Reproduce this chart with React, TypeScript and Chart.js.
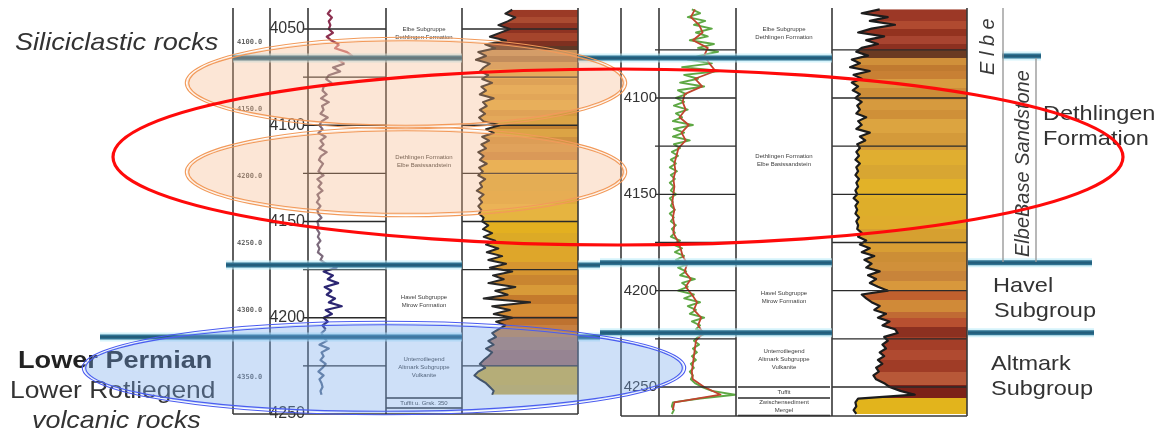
import React, { useEffect, useRef } from "react";
import { Chart, registerables } from "chart.js";

Chart.register(...registerables);

const W = 1154;
const H = 434;
const FONT = '"Liberation Sans", Arial, sans-serif';

// ---------------- data ----------------
const sampleStep = 2;
const wellLStart = 4040; // left well, first sample depth (m)
const wellRStart = 4054; // right well, first sample depth (m)
const redStep = 4;

// Left well: gamma-ray (API)
const grL = [
  44, 38, 46, 40, 43, 40, 48, 36, 45, 60, 52, 75, 85, 58, 70, 48, 62, 40, 35, 45, 30,
  28, 36, 25, 40, 27, 30, 24, 38, 26, 22, 28, 20, 34, 24, 30, 22, 36, 25, 21, 29,
  24, 20, 30, 18, 26, 20, 28, 18, 22, 17, 24, 18, 20, 26, 18, 20, 17, 22, 19, 24,
  18, 22, 19, 28, 24, 35, 55, 30, 48, 38, 58, 32, 45, 36, 52, 40, 65, 34, 46, 30,
  38, 28, 34, 26, 30, 36, 22, 40, 26, 30, 24, 34, 28, 20, 30, 22, 26, 28, 24, 26,
];
// Left well: filled log (value scale 0-150)
const fillL = [
  65, 56, 69, 59, 47, 62, 49, 36, 57, 30, 43, 21, 31, 18, 36, 28, 23, 34, 26, 39, 25,
  31, 23, 41, 27, 32, 23, 30, 22, 28, 49, 31, 41, 26, 35, 25, 31, 21, 28, 23, 32,
  22, 27, 21, 30, 23, 26, 19, 28, 22, 26, 21, 25, 22, 28, 26, 34, 27, 39, 28, 43,
  31, 47, 32, 52, 34, 57, 36, 65, 40, 54, 34, 69, 43, 59, 28, 88, 39, 62, 41, 65,
  44, 56, 47, 39, 44, 34, 41, 31, 39, 34, 28, 23, 30, 21, 16, 23, 31, 36, 41, 39,
];
// Right well: gamma-ray, green curve
const grR = [
  64, 80, 56, 90, 68, 103, 72, 95, 60, 107, 76, 115, 80, 56, 103, 45, 119, 49, 76, 41, 88, 37, 53, 33,
  49, 29, 56, 33, 45, 27, 66, 29, 49, 27, 60, 29, 41, 25, 37, 23, 33, 21, 35, 23, 31, 21, 29, 23, 33,
  21, 27, 23, 31, 21, 29, 23, 33, 25, 31, 23, 41, 27, 45, 31, 49, 33, 60, 37, 53, 41, 70, 45, 56, 37,
  68, 49, 80, 56, 72, 60, 88, 64, 80, 72, 92, 76, 68, 78, 66, 74, 64, 72, 62, 68, 60, 66, 62, 70, 84,
  103, 148, 80, 27, 25, 29, 25,
];
// Right well: second (red) curve
const grRedR = [
  70, 62, 78, 85, 66, 95, 88, 98, 110, 70, 84, 50, 46, 52, 40, 58, 44, 52, 38, 34,
  30, 32, 28, 30, 28, 26, 30, 27, 30, 28, 36, 42, 46, 55, 50, 62, 52, 64, 74, 68,
  82, 76, 86, 72, 70, 68, 66, 64, 66, 88, 120, 30, 27,
];
// Right well: filled log
const fillR = [
  53, 33, 62, 42, 70, 44, 29, 58, 38, 51, 33, 27, 40, 22, 31, 20, 42, 24, 33, 22, 29, 23, 31, 26,
  33, 28, 31, 27, 38, 29, 33, 27, 42, 31, 37, 28, 31, 27, 30, 26, 31, 27, 29, 26, 30, 27, 29, 26, 28,
  24, 29, 26, 28, 26, 30, 27, 29, 28, 33, 29, 38, 31, 42, 33, 47, 36, 44, 38, 53, 40, 49, 42, 51, 62,
  33, 38, 44, 53, 47, 60, 51, 64, 56, 70, 73, 58, 62, 56, 60, 53, 58, 51, 56, 49, 52, 46, 49, 58, 64,
  76, 92, 29, 26, 27, 24, 27,
];

// Curve colour by depth (left GR)
const grColorDepthL = [4000, 4057, 4068, 4171, 4206];
const grColorL = ["#8c3050", "#c87078", "#7c6a7c", "#2c2672", "#5c6f8c"];

// Fill colour bands (top depth of each band)
const fillBandDepthL = [
  4039, 4044, 4047, 4052, 4056, 4059, 4061, 4064, 4067, 4071, 4076, 4079, 4084, 4087, 4092,
  4095, 4100, 4102, 4106, 4110, 4114, 4118, 4126, 4134, 4141, 4150, 4156, 4162, 4171, 4178,
  4183, 4188, 4193, 4199, 4204, 4210, 4217, 4225, 4235, 4243,
];
const fillBandColorL = [
  "#9b3a26", "#ab4b31", "#8f3322", "#a5452c", "#7e3020", "#5e3826", "#c4925c", "#a97a4a",
  "#cf9a56", "#dea84a", "#d39a42", "#e0aa4a", "#d8a044", "#e2ae48", "#d49a40", "#dca446",
  "#c08032", "#dca445", "#cf9240", "#d69a48", "#cc8c44", "#e4b040", "#dcaa3e", "#e0aa3c",
  "#e6b440", "#e3b020", "#dcaa26", "#dea62a", "#d69530", "#c98530", "#d89a38", "#c47a2c",
  "#d48c34", "#be7230", "#c88040", "#b07a62", "#a87060", "#d8b038", "#d4ae40",
];
const fillBandDepthR = [
  4053, 4060, 4064, 4068, 4072, 4075, 4079, 4083, 4086, 4090, 4095, 4101, 4106, 4111, 4118,
  4127, 4135, 4142, 4152, 4161, 4168, 4174, 4180, 4185, 4190, 4195, 4200, 4205, 4211, 4214,
  4219, 4224, 4231, 4236, 4242, 4249, 4255.5, 4266,
];
const fillBandColorR = [
  "#9c3826", "#b04a30", "#93321f", "#a84430", "#8c3020", "#6a3a22", "#d0903a", "#c07a30",
  "#c88034", "#d89c40", "#cc8c38", "#d69a3e", "#cf9038", "#dca440", "#d49a3a", "#e0ae30",
  "#d8a632", "#e2b228", "#deae2a", "#dfac2c", "#d6a030", "#d89e34", "#cc8e36", "#d0903a",
  "#c8843a", "#d8983c", "#c0602e", "#d08a38", "#c06a34", "#b85030", "#8c3020", "#a43e28",
  "#b04a30", "#a03c26", "#b85838", "#7c2218", "#e2b41c",
];

// Depth tick labels and grid
const depthTicksL = [4050, 4100, 4150, 4200, 4250];
const depthTicksL2 = [4100, 4150, 4200, 4250, 4300, 4350];
const depthTicksR = [4100, 4150, 4200, 4250];
const gridDepthsL = [4050, 4075, 4100, 4125, 4150, 4175, 4200, 4225];
const gridDepthsR = [4075, 4100, 4125, 4150, 4175, 4200, 4225, 4250];

// Stratigraphic zones (boundaries in m) and their labels
const zoneBoundsL = [4039, 4065.1, 4172.6, 4210, 4241.7, 4246.9];
const zoneLabelsL = [
  ["Elbe Subgruppe", "Dethlingen Formation"],
  ["Dethlingen Formation", "Elbe Basissandstein"],
  ["Havel Subgruppe", "Mirow Formation"],
  ["Unterrotliegend", "Altmark Subgruppe", "Vulkanite"],
  ["Tuffit u. Grsk. 350"],
];
const zoneBoundsR = [4053.4, 4079.3, 4185.5, 4221.8, 4250, 4255.7, 4264.8];
const zoneLabelsR = [
  ["Elbe Subgruppe", "Dethlingen Formation"],
  ["Dethlingen Formation", "Elbe Basissandstein"],
  ["Havel Subgruppe", "Mirow Formation"],
  ["Unterrotliegend", "Altmark Subgruppe", "Vulkanite"],
  ["Tuffit"],
  ["Zwischensediment", "Mergel"],
];

// ---------------- layout (pixel anchors for the scales) ----------------
function axisRange(p0: number, p1: number, v0: number, v1: number, size: number) {
  const k = (v1 - v0) / (p1 - p0);
  return { min: v0 - p0 * k, max: v0 + (size - p0) * k };
}
const rDepthL = axisRange(29, 414, 4050, 4250, H);
const rDepthL2 = axisRange(42, 377, 4100, 4350, H);
const rDepthR = axisRange(98, 387, 4100, 4250, H);
const rGrL = axisRange(308, 386, 0, 150, W);
const rFillL = axisRange(462, 578, 0, 150, W);
const rGrR = axisRange(659, 736, 0, 150, W);
const rFillR = axisRange(832, 967, 0, 150, W);

const pts = (vals: number[], start: number, step: number) =>
  vals.map((v, i) => ({ x: v, y: start + i * step }));

function bandGradient(chart: any, scaleId: string, depths: number[], colors: string[]) {
  const sc = chart.scales && chart.scales[scaleId];
  const area = chart.chartArea;
  if (!sc || !area) return colors[0];
  const h = area.bottom - area.top;
  const g = chart.ctx.createLinearGradient(0, area.top, 0, area.bottom);
  const f = (d: number) => Math.min(1, Math.max(0, (sc.getPixelForValue(d) - area.top) / h));
  for (let i = 0; i < colors.length; i++) {
    g.addColorStop(f(depths[i]), colors[i]);
    g.addColorStop(f(depths[i + 1]), colors[i]);
  }
  return g;
}

function colorAt(depth: number, depths: number[], colors: string[]) {
  let c = colors[0];
  for (let i = 0; i < depths.length; i++) if (depth >= depths[i]) c = colors[i];
  return c;
}

// ---------------- drawing helpers ----------------
function seg(ctx: CanvasRenderingContext2D, x0: number, y0: number, x1: number, y1: number) {
  ctx.beginPath();
  ctx.moveTo(x0, y0);
  ctx.lineTo(x1, y1);
  ctx.stroke();
}
function txt(ctx: CanvasRenderingContext2D, s: string, x: number, y: number, font: string, color: string, align: CanvasTextAlign = "left", sx = 1, base: CanvasTextBaseline = "alphabetic") {
  ctx.save();
  ctx.font = font;
  ctx.fillStyle = color;
  ctx.textAlign = align;
  ctx.textBaseline = base;
  ctx.translate(x, y);
  ctx.scale(sx, 1);
  ctx.fillText(s, 0, 0);
  ctx.restore();
}
function vtxt(ctx: CanvasRenderingContext2D, s: string, x: number, y: number, font: string, color: string) {
  ctx.save();
  ctx.font = font;
  ctx.fillStyle = color;
  ctx.textAlign = "left";
  ctx.textBaseline = "alphabetic";
  ctx.translate(x, y);
  ctx.rotate(-Math.PI / 2);
  ctx.fillText(s, 0, 0);
  ctx.restore();
}
function teal(ctx: CanvasRenderingContext2D, x0: number, x1: number, y: number) {
  ctx.save();
  ctx.lineCap = "butt";
  ctx.strokeStyle = "rgba(185,235,248,0.6)";
  ctx.lineWidth = 9;
  seg(ctx, x0, y, x1, y);
  ctx.strokeStyle = "#2f7392";
  ctx.lineWidth = 5;
  seg(ctx, x0, y, x1, y);
  ctx.strokeStyle = "#235d7b";
  ctx.lineWidth = 2;
  seg(ctx, x0, y, x1, y);
  ctx.restore();
}
function doubleEllipse(ctx: CanvasRenderingContext2D, cx: number, cy: number, rx: number, ry: number, fill: string, stroke: string) {
  ctx.save();
  ctx.beginPath();
  ctx.ellipse(cx, cy, rx, ry, 0, 0, Math.PI * 2);
  ctx.fillStyle = fill;
  ctx.fill();
  ctx.strokeStyle = stroke;
  ctx.lineWidth = 1.1;
  for (const o of [-1.7, 1.7]) {
    ctx.beginPath();
    ctx.ellipse(cx, cy, rx + o, ry + o, 0, 0, Math.PI * 2);
    ctx.stroke();
  }
  ctx.restore();
}
function zoneLabels(ctx: CanvasRenderingContext2D, bounds: number[], labels: string[][], yf: (d: number) => number, cx: number) {
  labels.forEach((lines, i) => {
    const mid = yf((bounds[i] + bounds[i + 1]) / 2);
    const y0 = mid - ((lines.length - 1) * 8) / 2;
    lines.forEach((s, k) => txt(ctx, s, cx, y0 + k * 8, `6px ${FONT}`, "#3c3c3c", "center", 1, "middle"));
  });
}

const decorPlugin = {
  id: "decor",
  afterDatasetsDraw(chart: any) {
    const ctx: CanvasRenderingContext2D = chart.ctx;
    const s = chart.scales;
    const yL = (d: number) => s.depthL.getPixelForValue(d);
    const yL2 = (d: number) => s.depthL2.getPixelForValue(d);
    const yR = (d: number) => s.depthR.getPixelForValue(d);
    const L = { a: 233, b: 270, c: 308, d: 386, e: 462, f: 578, top: 8, bot: 414 };
    const R = { a: 621, b: 659, c: 736, d: 832, e: 967, top: 8, bot: 416 };

    ctx.save();
    // grid lines
    ctx.strokeStyle = "#2a2a2a";
    ctx.lineWidth = 1.4;
    for (const g of gridDepthsL) {
      const y = yL(g);
      seg(ctx, L.c - 5, y, L.d, y);
      seg(ctx, L.e, y, L.f, y);
    }
    for (const g of gridDepthsR) {
      const y = yR(g);
      seg(ctx, R.b - 4, y, R.c, y);
      seg(ctx, R.d, y, R.e, y);
    }
    // text-column boxes
    for (const b of zoneBoundsL.slice(4)) seg(ctx, L.d, yL(b), L.e, yL(b));
    for (const b of zoneBoundsR.slice(4)) seg(ctx, R.c + 2, yR(b), R.d - 2, yR(b));
    // frames
    ctx.strokeStyle = "#383838";
    ctx.lineWidth = 1.6;
    for (const x of [L.a, L.b, L.c, L.d, L.e, L.f]) seg(ctx, x, L.top, x, L.bot);
    seg(ctx, L.a, L.bot, L.f, L.bot);
    for (const x of [R.a, R.b, R.c, R.d, R.e]) seg(ctx, x, R.top, x, R.bot);
    seg(ctx, R.a, R.bot, R.e, R.bot);
    ctx.restore();

    // formation tops (teal)
    teal(ctx, 233, L.e, yL(zoneBoundsL[1]));
    teal(ctx, 226, L.e, yL(zoneBoundsL[2]));
    teal(ctx, 100, L.e, yL(zoneBoundsL[3]));
    teal(ctx, L.f, 600, yL(zoneBoundsL[2]));
    teal(ctx, L.f, 600, yL(zoneBoundsL[3]));
    teal(ctx, L.f, R.d, yR(zoneBoundsR[1]));
    teal(ctx, 600, R.d, yR(zoneBoundsR[2]));
    teal(ctx, 600, R.d, yR(zoneBoundsR[3]));
    teal(ctx, R.e + 1, 1092, yR(zoneBoundsR[2]));
    teal(ctx, R.e + 1, 1094, yR(zoneBoundsR[3]));
    teal(ctx, 1002, 1041, yR(zoneBoundsR[1]) - 2);

    // depth labels
    for (const d of depthTicksL) txt(ctx, String(d), 305, yL(d), `16px ${FONT}`, "#333", "right", 1, "middle");
    for (const d of depthTicksL2) txt(ctx, d.toFixed(1), 237, yL2(d), `bold 7px "DejaVu Sans Mono", monospace`, "#666", "left", 1, "middle");
    for (const d of depthTicksR) txt(ctx, String(d), 657, yR(d), `15px ${FONT}`, "#333", "right", 1, "middle");

    // text-column labels
    zoneLabels(ctx, zoneBoundsL, zoneLabelsL, yL, (L.d + L.e) / 2);
    zoneLabels(ctx, zoneBoundsR, zoneLabelsR, yR, (R.c + R.d) / 2);

    // right-hand stratigraphy annotation
    ctx.save();
    ctx.strokeStyle = "#9a9a9a";
    ctx.lineWidth = 1.4;
    seg(ctx, 1003, 8, 1003, 262);
    seg(ctx, 1036, 58, 1036, 262);
    ctx.restore();
    vtxt(ctx, "E l b e", 994, 75, `italic 20px ${FONT}`, "#3a3a3a");
    vtxt(ctx, "ElbeBase Sandstone", 1029, 257, `italic 20px ${FONT}`, "#3a3a3a");
    const sx = 1.12;
    txt(ctx, "Dethlingen", 1043, 120, `21px ${FONT}`, "#333", "left", sx);
    txt(ctx, "Formation", 1043, 145, `21px ${FONT}`, "#333", "left", sx);
    txt(ctx, "Havel", 993, 292, `21px ${FONT}`, "#333", "left", sx);
    txt(ctx, "Subgroup", 994, 317, `21px ${FONT}`, "#333", "left", sx);
    txt(ctx, "Altmark", 991, 370, `21px ${FONT}`, "#333", "left", sx);
    txt(ctx, "Subgroup", 991, 395, `21px ${FONT}`, "#333", "left", sx);

    // left-hand annotation
    txt(ctx, "Siliciclastic rocks", 15, 50, `italic 24px ${FONT}`, "#333", "left", 1.13);
    txt(ctx, "Lower Permian", 18, 368, `bold 24px ${FONT}`, "#222", "left", 1.13);
    txt(ctx, "Lower Rotliegend", 10, 398, `24px ${FONT}`, "#333", "left", 1.1);
    txt(ctx, "volcanic rocks", 32, 428, `italic 24px ${FONT}`, "#333", "left", 1.12);

    // highlight ellipses
    doubleEllipse(ctx, 406, 83, 219, 44, "rgba(245,180,130,0.33)", "#f29a5a");
    doubleEllipse(ctx, 406, 172, 219, 43, "rgba(245,180,130,0.33)", "#f29a5a");
    doubleEllipse(ctx, 384, 368, 300, 45, "rgba(120,170,235,0.36)", "#4a5cf0");
    ctx.save();
    ctx.strokeStyle = "#ff0a0a";
    ctx.lineWidth = 3.2;
    ctx.beginPath();
    ctx.ellipse(618, 157, 505, 88, 0, 0, Math.PI * 2);
    ctx.stroke();
    ctx.restore();
  },
};

export default function App() {
  const ref = useRef<HTMLCanvasElement>(null);
  useEffect(() => {
    const linear = (axis: "x" | "y", r: { min: number; max: number }, reverse = false) => ({
      type: "linear" as const,
      axis,
      position: axis === "x" ? ("bottom" as const) : ("left" as const),
      display: false,
      reverse,
      bounds: "data" as const,
      min: r.min,
      max: r.max,
    });
    const chart = new Chart(ref.current as HTMLCanvasElement, {
      type: "line",
      data: {
        datasets: [
          {
            label: "Fill L",
            data: pts(fillL, wellLStart, sampleStep),
            xAxisID: "fillL",
            yAxisID: "depthL",
            indexAxis: "y",
            borderColor: "#262626",
            borderWidth: 2,
            fill: { value: 150 },
            backgroundColor: (c: any) => bandGradient(c.chart, "depthL", fillBandDepthL, fillBandColorL),
          },
          {
            label: "GR L",
            data: pts(grL, wellLStart, sampleStep),
            xAxisID: "grL",
            yAxisID: "depthL",
            indexAxis: "y",
            borderWidth: 2.2,
            borderColor: "#7c6a7c",
            segment: { borderColor: (c: any) => colorAt(c.p0.parsed.y, grColorDepthL, grColorL) },
            fill: false,
          },
          {
            label: "Fill R",
            data: pts(fillR, wellRStart, sampleStep),
            xAxisID: "fillR",
            yAxisID: "depthR",
            indexAxis: "y",
            borderColor: "#1c1c1c",
            borderWidth: 2.2,
            fill: { value: 150 },
            backgroundColor: (c: any) => bandGradient(c.chart, "depthR", fillBandDepthR, fillBandColorR),
          },
          {
            label: "GR R red",
            data: pts(grRedR, wellRStart, redStep),
            xAxisID: "grR",
            yAxisID: "depthR",
            indexAxis: "y",
            borderColor: "#c0442e",
            borderWidth: 1.8,
            fill: false,
          },
          {
            label: "GR R green",
            data: pts(grR, wellRStart, sampleStep),
            xAxisID: "grR",
            yAxisID: "depthR",
            indexAxis: "y",
            borderColor: "#5ea844",
            borderWidth: 1.9,
            fill: false,
          },
        ] as any,
      },
      options: {
        indexAxis: "y",
        animation: false,
        responsive: false,
        devicePixelRatio: 1,
        events: [],
        layout: { padding: 0 },
        elements: {
          point: { radius: 0 },
          line: { tension: 0, borderJoinStyle: "round" },
        },
        plugins: {
          legend: { display: false },
          tooltip: { enabled: false },
          title: { display: false },
        },
        scales: {
          depthL: linear("y", rDepthL, true),
          depthL2: linear("y", rDepthL2, true),
          depthR: linear("y", rDepthR, true),
          grL: linear("x", rGrL),
          fillL: linear("x", rFillL),
          grR: linear("x", rGrR),
          fillR: linear("x", rFillR),
        } as any,
      },
      plugins: [decorPlugin],
    });
    return () => chart.destroy();
  }, []);
  return (
    <div style={{ position: "fixed", left: 0, top: 0, width: W, height: H, background: "#ffffff" }}>
      <canvas ref={ref} width={W} height={H} style={{ width: W, height: H, display: "block" }} />
    </div>
  );
}
